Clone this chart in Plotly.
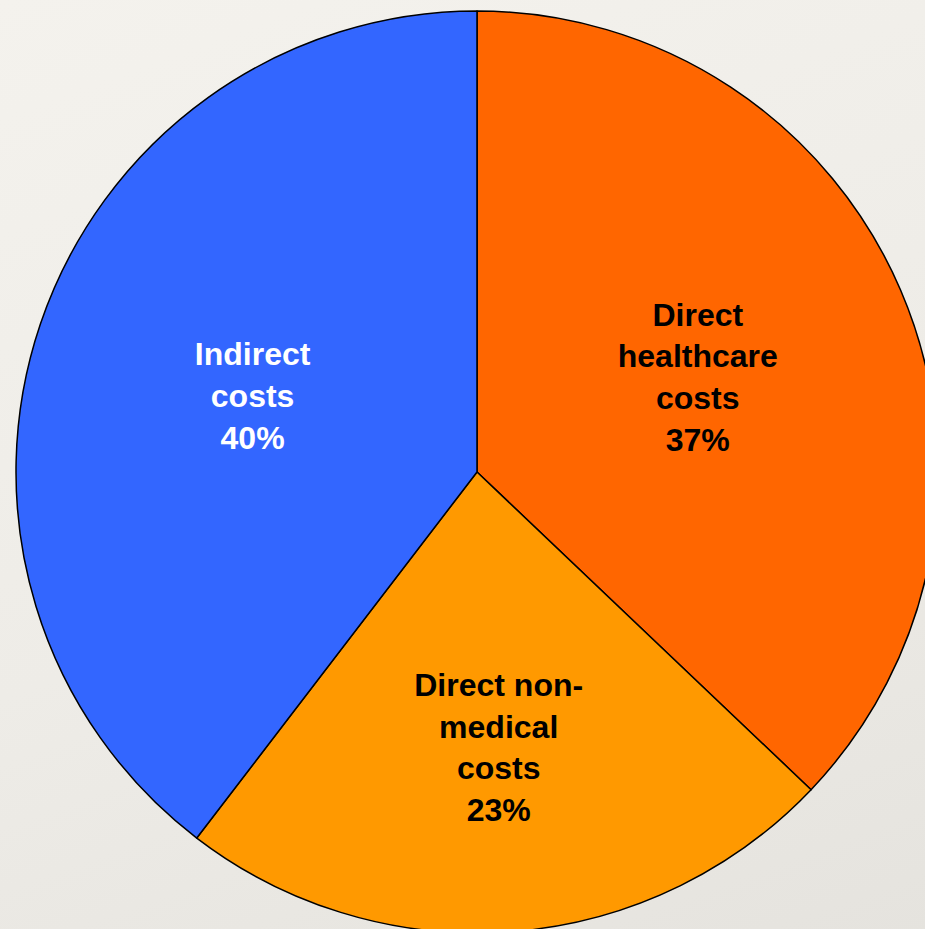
import plotly.graph_objects as go

labels = ["Direct<br>healthcare<br>costs", "Direct non-<br>medical<br>costs", "Indirect<br>costs"]
values = [37.1, 23.3, 39.6]
colors = ["#ff6600", "#ff9900", "#3366ff"]
text_colors = ["#000000", "#000000", "#ffffff"]

W, H = 940, 935

fig = go.Figure(go.Pie(
    labels=labels,
    values=values,
    sort=False,
    direction="clockwise",
    rotation=0,
    marker=dict(colors=colors, line=dict(color="#000000", width=1.5)),
    texttemplate="%{label}<br>%{percent:.0%}",
    textposition="inside",
    insidetextorientation="horizontal",
    textfont=dict(family="Liberation Sans, Arial, sans-serif", size=32,
                  color=text_colors, weight="bold"),
    hoverinfo="skip",
    showlegend=False,
    domain=dict(x=[16 / W, 938 / W], y=[2 / H, 924 / H]),
))

fig.update_layout(
    width=W,
    height=H,
    margin=dict(l=0, r=0, t=0, b=0),
    paper_bgcolor="rgba(0,0,0,0)",
    plot_bgcolor="rgba(0,0,0,0)",
    showlegend=False,
)

post = (
    "document.body.style.margin='0';"
    "document.body.style.overflow='hidden';"
    "document.documentElement.style.overflow='hidden';"
    "document.body.style.background='linear-gradient(160deg, #f4f2ed 0%, #eeece7 55%, #e5e3de 100%)';"
    "document.body.style.minHeight='100vh';"
)
fig.write_html("out.html", post_script=post, config={"displayModeBar": False})
